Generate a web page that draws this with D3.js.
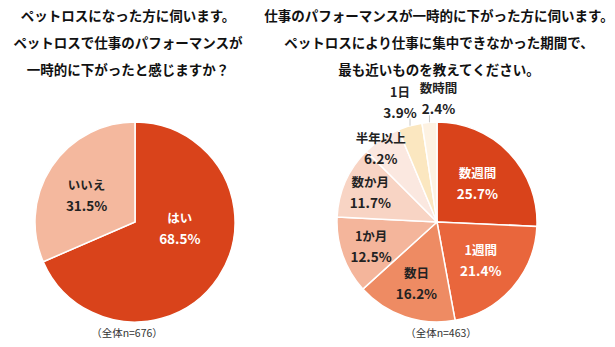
<!DOCTYPE html>
<html>
<head>
<meta charset="utf-8">
<script src="https://cdn.jsdelivr.net/npm/d3@7"></script>
<style>
  body { margin: 0; background: #fff; }
  text { font-family: "Noto Sans CJK JP", "Noto Sans", sans-serif; }
</style>
</head>
<body>
<script>
// left pie
const leftTitle = ["ペットロスになった方に伺います。", "ペットロスで仕事のパフォーマンスが", "一時的に下がったと感じますか？"];
const leftLabels = ["はい", "いいえ"];
const leftValues = [68.5, 31.5];
const leftNote = "（全体n=676）";

// right pie
const rightTitle = ["仕事のパフォーマンスが一時的に下がった方に伺います。", "ペットロスにより仕事に集中できなかった期間で、", "最も近いものを教えてください。"];
const rightLabels = ["数週間", "1週間", "数日", "1か月", "数か月", "半年以上", "1日", "数時間"];
const rightValues = [25.7, 21.4, 16.2, 12.5, 11.7, 6.2, 3.9, 2.4];
const rightNote = "（全体n=463）";

const width = 615, height = 347;
const R = 100;

const svg = d3.select("body").append("svg")
    .attr("width", width)
    .attr("height", height);

const pie = d3.pie().sort(null).value(d => d.v);
const arc = d3.arc().innerRadius(0).outerRadius(R);

function drawTitle(lines, cx) {
    svg.append("g").selectAll("text")
        .data(lines)
        .enter().append("text")
        .attr("x", cx)
        .attr("y", (d, i) => 21 + i * 27)
        .attr("text-anchor", "middle")
        .attr("font-size", 13.5)
        .attr("font-weight", "bold")
        .attr("fill", "#111")
        .text(d => d);
}

// opt: colors, textColors, labelR (fraction of R), nudge [dx,dy], outside (x offset of text from leader line)
function drawPie(labels, values, opt, cx, cy, note, noteX) {
    const data = labels.map((l, i) => ({ l: l, v: values[i] }));
    const arcs = pie(data);
    const g = svg.append("g").attr("transform", `translate(${cx},${cy})`);

    g.selectAll("path")
        .data(arcs)
        .enter().append("path")
        .attr("d", arc)
        .attr("fill", d => opt.colors[d.index])
        .attr("stroke", "#fff")
        .attr("stroke-width", 1.5);

    arcs.forEach(function(d) {
        const mid = (d.startAngle + d.endAngle) / 2;
        let x, y;
        if (opt.outside[d.index] != null) {
            // leader line going straight up from the arc edge
            const ex = Math.sin(mid) * R, ey = -Math.cos(mid) * R;
            g.append("line")
                .attr("x1", ex).attr("y1", ey)
                .attr("x2", ex).attr("y2", ey - 7)
                .attr("stroke", "#c8c8c8")
                .attr("stroke-width", 1);
            x = ex + opt.outside[d.index];
            y = ey - 24;
        } else {
            const rr = R * opt.labelR[d.index];
            x = Math.sin(mid) * rr + opt.nudge[d.index][0];
            y = -Math.cos(mid) * rr + opt.nudge[d.index][1];
        }
        const t = g.append("text")
            .attr("text-anchor", "middle")
            .attr("font-size", 12.5)
            .attr("font-weight", "bold")
            .attr("fill", opt.textColors[d.index]);
        t.append("tspan").attr("x", x).attr("y", y - 5).text(d.data.l);
        t.append("tspan").attr("x", x).attr("y", y + 16).attr("font-size", 13.5)
            .text(d3.format(".1f")(d.data.v) + "%");
    });

    svg.append("text")
        .attr("x", noteX)
        .attr("y", 337)
        .attr("text-anchor", "middle")
        .attr("font-size", 10.5)
        .attr("fill", "#333")
        .text(note);
}

drawTitle(leftTitle, 128);
drawTitle(rightTitle, 439);

drawPie(leftLabels, leftValues, {
    colors: ["#D9431B", "#F4B89E"],
    textColors: ["#fff", "#222"],
    labelR: [0.5, 0.58],
    nudge: [[3, -21], [0, 5]],
    outside: [null, null]
}, 135, 222, leftNote, 127);

drawPie(rightLabels, rightValues, {
    colors: ["#D9431B", "#E9663C", "#EE8B63", "#F4B59B", "#F8D4C4", "#FBE8E0", "#FBE7C0", "#FDF2E2"],
    textColors: ["#fff", "#fff", "#222", "#222", "#222", "#222", "#222", "#222"],
    labelR: [0.56, 0.58, 0.64, 0.7, 0.73, 0.92, 0, 0],
    nudge: [[0, 0], [0, 0], [0, 0], [0, 0], [0, 0], [-5, 2], [0, 0], [0, 0]],
    outside: [null, null, null, null, null, null, -10, 9]
}, 437, 222, rightNote, 441);
</script>
</body>
</html>
